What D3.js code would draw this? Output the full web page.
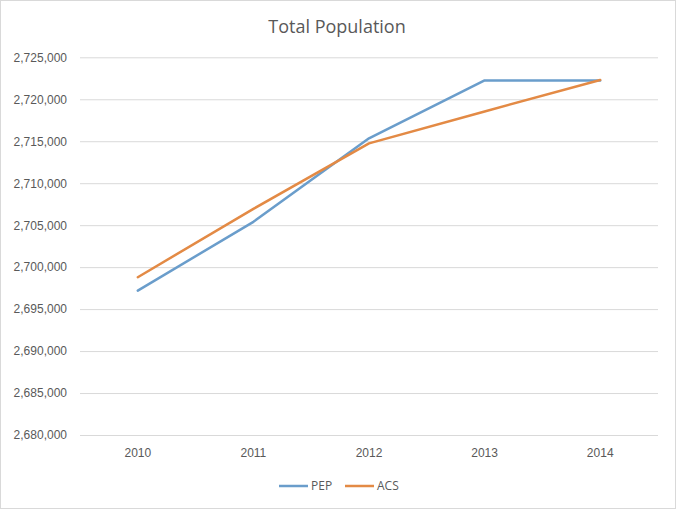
<!DOCTYPE html>
<html><head><meta charset="utf-8">
<script src="https://cdn.jsdelivr.net/npm/d3@7"></script>
<style>
html,body{margin:0;padding:0;background:#fff;}
svg{display:block;font-family:"Segoe UI","Open Sans","Noto Sans",sans-serif;}
</style></head>
<body>
<script>
const years = ["2010","2011","2012","2013","2014"];
const pep = [2697200, 2705400, 2715350, 2722250, 2722250];
const acs = [2698800, 2706950, 2714750, 2718550, 2722300];
const yTicks = [2680000,2685000,2690000,2695000,2700000,2705000,2710000,2715000,2720000,2725000];
const seriesNames = ["PEP","ACS"];
const colors = ["#6a9dcb","#e38a45"];

(function(){
const W = 676, H = 509;
const svg = d3.select("body").append("svg").attr("width",W).attr("height",H);
svg.append("rect").attr("x",0.5).attr("y",0.5).attr("width",W-1).attr("height",H-1)
  .attr("fill","#fff").attr("stroke","#d9d9d9");

const mL = 80, mR = 658, mT = 57.3, mB = 435;
const x = d3.scaleBand().domain(years).range([mL,mR]);
const y = d3.scaleLinear().domain([2680000,2725000]).range([mB,mT]);

svg.append("text").attr("x",337).attr("y",33).attr("text-anchor","middle")
  .attr("font-size",18).attr("fill","#595959").text("Total Population");

const yAxis = svg.append("g").attr("transform",`translate(${mL},0)`)
  .call(d3.axisLeft(y).tickValues(yTicks).tickFormat(d3.format(",")).tickSize(-(mR-mL)).tickPadding(13));
yAxis.select(".domain").remove();
yAxis.selectAll(".tick line").attr("stroke","#d9d9d9");
yAxis.selectAll(".tick text").attr("fill","#595959").attr("font-size",12);

const xAxis = svg.append("g").attr("transform",`translate(0,${mB})`)
  .call(d3.axisBottom(x).tickSize(0).tickPadding(13));
xAxis.select(".domain").remove();
xAxis.selectAll(".tick text").attr("fill","#595959").attr("font-size",12);

const line = d3.line().x((d,i)=>x(years[i])+x.bandwidth()/2).y(d=>y(d));
[pep,acs].forEach((s,k)=>{
  svg.append("path").datum(s).attr("d",line).attr("fill","none")
    .attr("stroke",colors[k]).attr("stroke-width",2.5).attr("stroke-linejoin","round").attr("stroke-linecap","round");
});

const legend = svg.append("g");
const lx = [279,345];
seriesNames.forEach((n,k)=>{
  legend.append("line").attr("x1",lx[k]).attr("x2",lx[k]+29).attr("y1",486).attr("y2",486)
    .attr("stroke",colors[k]).attr("stroke-width",2.5);
  legend.append("text").attr("x",lx[k]+32).attr("y",490).attr("font-size",12).attr("fill","#595959").text(n);
});
})();
</script>
</body></html>
